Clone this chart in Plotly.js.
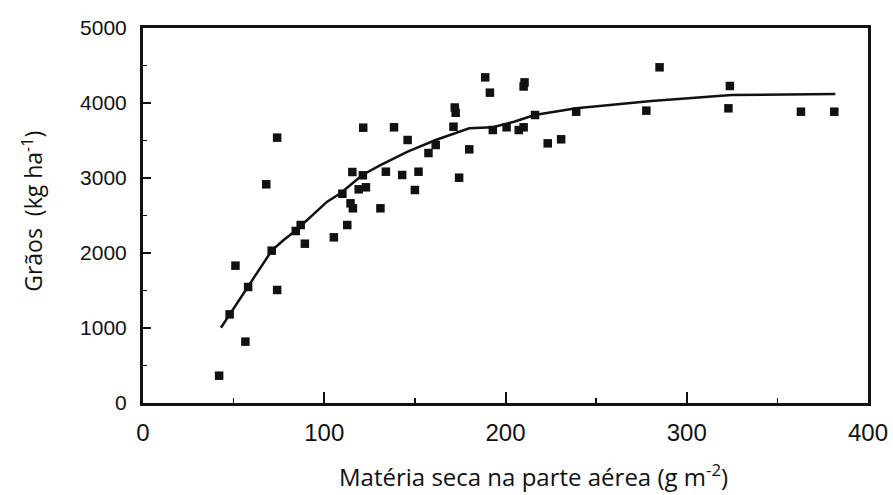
<!DOCTYPE html>
<html>
<head>
<meta charset="utf-8">
<script src="https://cdn.plot.ly/plotly-3.0.1.min.js"></script>
<style>html,body{margin:0;padding:0;background:#fff;}#chart{width:893px;height:495px;}</style>
</head>
<body>
<div id="chart"></div>
<script>
// Observed data points (Matéria seca, g m-2 ; Grãos, kg ha-1)
var obsX = [42, 47.8, 51, 56.5, 58, 68, 71, 74, 74, 84.3, 87, 89.3, 105.3, 110, 112.7, 114.5, 115.8, 115.5, 119, 121.3, 121.5, 123, 131, 134, 138.5, 143, 146, 150, 152, 157.5, 161.5, 171.3, 172, 172.5, 174.4, 180, 188.8, 191.4, 193, 200.6, 207.3, 210, 210, 210.5, 216.3, 223.3, 230.7, 239, 277.7, 285, 323, 323.8, 363, 381.4];
var obsY = [364, 1182, 1831, 818, 1547, 2916, 2031, 3538, 1507, 2293, 2373, 2124, 2209, 2790, 2373, 2662, 2596, 3080, 2849, 3036, 3671, 2876, 2596, 3084, 3676, 3040, 3507, 2840, 3084, 3333, 3440, 3684, 3940, 3870, 3004, 3382, 4342, 4138, 3640, 3676, 3640, 3676, 4220, 4275, 3840, 3462, 3516, 3884, 3898, 4476, 3929, 4227, 3884, 3884];

// Fitted curve
var fitX = [43, 47.8, 58, 71, 77.6, 84, 101.6, 109, 121, 131, 146, 161.5, 180, 193, 204.8, 216, 239, 264, 280.5, 300.8, 324.8, 382];
var fitY = [1004, 1182, 1547, 2031, 2173, 2293, 2684, 2796, 3040, 3173, 3351, 3507, 3662, 3676, 3751, 3840, 3929, 3990, 4027, 4062, 4107, 4120];

var xTickVals = [0, 100, 200, 300, 400];
var yTickVals = [0, 1000, 2000, 3000, 4000, 5000];

var xTitle = 'Matéria seca na parte aérea (g m<sup>-2</sup>)';
var yTitle = 'Grãos\u00a0\u00a0(kg ha<sup>-1</sup>)';

var traces = [
  {x: fitX, y: fitY, type: 'scatter', mode: 'lines', line: {color: '#111', width: 2.5}, hoverinfo: 'skip'},
  {x: obsX, y: obsY, type: 'scatter', mode: 'markers', marker: {symbol: 'square', size: 8.5, color: '#111'}}
];

var titleFont = {family: 'Open Sans, Lato, sans-serif', color: '#111'};

var layout = {
  width: 893, height: 495,
  margin: {l: 143, r: 25, t: 28, b: 92},
  paper_bgcolor: '#fff', plot_bgcolor: '#fff',
  showlegend: false,
  xaxis: {
    range: [0, 400], tickvals: xTickVals, ticktext: xTickVals.map(String),
    showgrid: false, zeroline: false,
    showline: true, linecolor: '#111', linewidth: 3, mirror: true,
    ticks: 'inside', ticklen: 11, tickwidth: 2, tickcolor: '#111',
    minor: {dtick: 50, ticks: 'inside', ticklen: 5, tickwidth: 1.5, tickcolor: '#111'},
    tickfont: {family: 'Liberation Sans, Arial, sans-serif', size: 24, color: '#111'},
    ticklabelstandoff: 6
  },
  yaxis: {
    range: [0, 5000], tickvals: yTickVals, ticktext: yTickVals.map(String),
    showgrid: false, zeroline: false,
    showline: true, linecolor: '#111', linewidth: 3, mirror: true,
    ticks: 'inside', ticklen: 8, tickwidth: 2, tickcolor: '#111',
    minor: {dtick: 500, ticks: 'inside', ticklen: 4, tickwidth: 1.5, tickcolor: '#111'},
    tickfont: {family: 'Liberation Sans, Arial, sans-serif', size: 21, color: '#111'},
    ticklabelstandoff: 9
  },
  annotations: [
    {text: xTitle, xref: 'paper', yref: 'paper', x: 0.539, y: -0.194, xanchor: 'center', yanchor: 'middle',
     showarrow: false, font: Object.assign({size: 24}, titleFont)},
    {text: yTitle, xref: 'paper', yref: 'paper', x: -0.152, y: 0.512, xanchor: 'center', yanchor: 'middle',
     textangle: -90, showarrow: false, font: Object.assign({size: 23}, titleFont)}
  ]
};

Plotly.newPlot('chart', traces, layout, {staticPlot: true, displayModeBar: false});
</script>
</body>
</html>
